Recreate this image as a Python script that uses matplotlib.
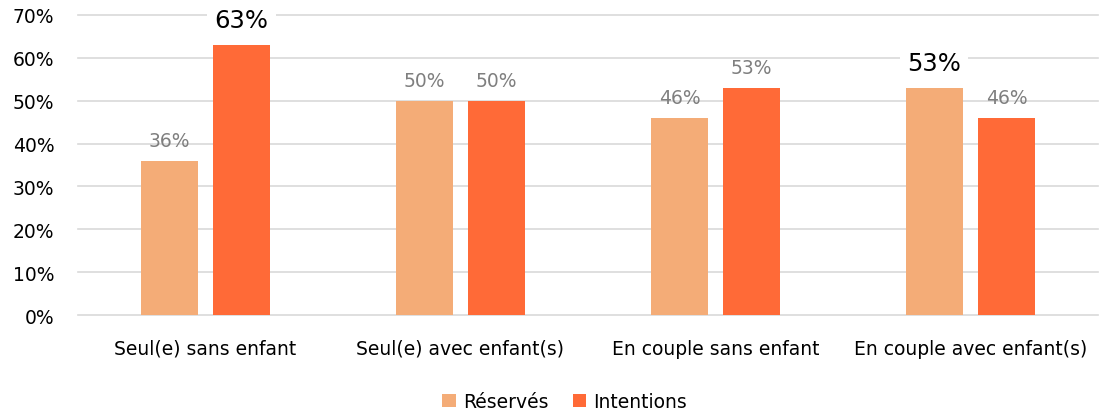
import matplotlib
matplotlib.use("Agg")
import matplotlib.pyplot as plt
import numpy as np

categories = ["Seul(e) sans enfant", "Seul(e) avec enfant(s)", "En couple sans enfant", "En couple avec enfant(s)"]
reserves = [36, 50, 46, 53]
intentions = [63, 50, 53, 46]
highlight_res = [False, False, False, True]
highlight_int = [True, False, False, False]
yticks = [0, 10, 20, 30, 40, 50, 60, 70]

plt.rcParams['font.family'] = ['DejaVu Sans']

fig = plt.figure(figsize=(11.01, 4.14), dpi=100)
ax = fig.add_axes([0.0708, 0.2367, 0.9265, 0.7247])

x = np.arange(len(categories))
w = 0.224
gap = 0.059
c_res = "#F4AC77"
c_int = "#FF6A37"
b1 = ax.bar(x - (w + gap) / 2, reserves, w, color=c_res, label="Réservés", zorder=3)
b2 = ax.bar(x + (w + gap) / 2, intentions, w, color=c_int, label="Intentions", zorder=3)

for bars, vals, hl in ((b1, reserves, highlight_res), (b2, intentions, highlight_int)):
    for b, v, h in zip(bars, vals, hl):
        cx = b.get_x() + b.get_width() / 2
        if h:
            ax.text(cx, v + 4.2, f"{v}%", ha="center", va="baseline", fontsize=17.5,
                    color="black", zorder=4,
                    bbox=dict(facecolor="white", edgecolor="none", pad=5))
        else:
            ax.text(cx, v + 3.5, f"{v}%", ha="center", va="baseline", fontsize=13.5,
                    color="#7f7f7f", zorder=4)

ax.set_xlim(-0.5, 3.5)
ax.set_ylim(0, 70)
ax.set_yticks(yticks)
ax.set_yticklabels([f"{t}%" for t in yticks], fontsize=13.5)
ax.set_xticks(x)
ax.set_xticklabels(categories, fontsize=13.5)
ax.tick_params(axis="both", length=0, colors="black")
ax.tick_params(axis="x", pad=17)
ax.tick_params(axis="y", pad=17)
ax.yaxis.grid(True, color="#d9d9d9", linewidth=1.2, zorder=0)
ax.set_axisbelow(True)
for gl in ax.get_ygridlines():
    gl.set_clip_on(False)
for s in ax.spines.values():
    s.set_visible(False)

fig.legend(handles=[b1, b2], loc="center", bbox_to_anchor=(0.513, 0.028), ncol=2,
           frameon=False, fontsize=13.5, handlelength=0.7, handleheight=0.7,
           handletextpad=0.4, columnspacing=1.3)

fig.savefig("out.png", dpi=100)
